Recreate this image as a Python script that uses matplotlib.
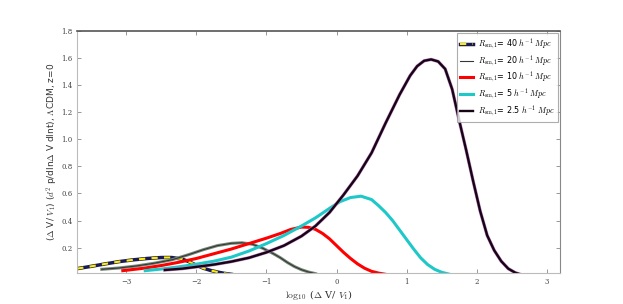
import matplotlib
matplotlib.use('Agg')
import matplotlib.pyplot as plt

plt.rcParams['mathtext.fontset'] = 'cm'

# log10(dV/V1) vs distribution
x_40 = [-3.7, -3.5, -3.3, -3.1, -2.9, -2.7, -2.5, -2.35, -2.2, -2.1, -2.0, -1.9, -1.8, -1.7, -1.6, -1.5]
y_40 = [0.045, 0.062, 0.08, 0.097, 0.11, 0.12, 0.127, 0.127, 0.115, 0.095, 0.07, 0.048, 0.032, 0.02, 0.01, 0.003]

x_20 = [-3.35, -3.1, -2.85, -2.6, -2.35, -2.1, -1.9, -1.7, -1.5, -1.35, -1.2, -1.05,
        -0.9, -0.8, -0.7, -0.6, -0.5, -0.4, -0.3]
y_20 = [0.04, 0.05, 0.065, 0.085, 0.11, 0.15, 0.185, 0.215, 0.232, 0.236, 0.225, 0.195,
        0.155, 0.125, 0.09, 0.06, 0.037, 0.02, 0.008]

x_10 = [-3.05, -2.75, -2.5, -2.25, -2.0, -1.75, -1.5, -1.25, -1.0, -0.8, -0.65, -0.5,
        -0.4, -0.3, -0.2, -0.1, 0.0, 0.1, 0.2, 0.3, 0.4, 0.5, 0.6, 0.7]
y_10 = [0.03, 0.048, 0.068, 0.092, 0.12, 0.155, 0.19, 0.23, 0.27, 0.305, 0.335, 0.352,
        0.35, 0.335, 0.305, 0.265, 0.215, 0.165, 0.12, 0.08, 0.048, 0.025, 0.012, 0.003]

x_5 = [-2.73, -2.5, -2.25, -2.0, -1.75, -1.5, -1.25, -1.0, -0.75, -0.5, -0.3, -0.1,
       0.05, 0.2, 0.35, 0.5, 0.6, 0.7, 0.8, 0.9, 1.0, 1.1, 1.2, 1.3, 1.4, 1.5, 1.6]
y_5 = [0.03, 0.042, 0.058, 0.078, 0.10, 0.13, 0.175, 0.23, 0.29, 0.36, 0.42, 0.49,
       0.54, 0.57, 0.58, 0.555, 0.51, 0.46, 0.40, 0.33, 0.26, 0.19, 0.125, 0.075, 0.04, 0.018, 0.005]

x_25 = [-2.45, -2.2, -2.0, -1.75, -1.5, -1.25, -1.0, -0.75, -0.5, -0.3, -0.1, 0.1,
        0.3, 0.5, 0.7, 0.9, 1.05, 1.15, 1.25, 1.35, 1.45, 1.55, 1.65, 1.75, 1.85,
        1.95, 2.05, 2.15, 2.25, 2.35, 2.45, 2.55, 2.62]
y_25 = [0.035, 0.045, 0.058, 0.075, 0.097, 0.125, 0.165, 0.215, 0.285, 0.36, 0.46, 0.59,
        0.73, 0.90, 1.12, 1.33, 1.47, 1.54, 1.58, 1.59, 1.575, 1.52, 1.37, 1.14, 0.92,
        0.69, 0.47, 0.29, 0.18, 0.10, 0.045, 0.015, 0.003]

labels = [r'$R_{\rm sm,1}$= 40 $h^{-1}$ $Mpc$',
          r'$R_{\rm sm,1}$= 20 $h^{-1}$ $Mpc$',
          r'$R_{\rm sm,1}$= 10 $h^{-1}$ $Mpc$',
          r'$R_{\rm sm,1}$= 5 $h^{-1}$ $Mpc$',
          r'$R_{\rm sm,1}$= 2.5 $h^{-1}$ $Mpc$']

fig, ax = plt.subplots(figsize=(6.23, 3.04), dpi=100)
fig.subplots_adjust(left=0.124, right=0.899, bottom=0.103, top=0.898)

l40a, = ax.plot(x_40, y_40, color='#1a1a50', lw=2.5)
l40b, = ax.plot(x_40, y_40, color='#ffee00', lw=1.5, dashes=(3, 3))
ax.plot(x_20, y_20, color='#7a887a', lw=2.2)
l20, = ax.plot(x_20, y_20, color='#333833', lw=0.8)
l10, = ax.plot(x_10, y_10, color='red', lw=2.2)
l5, = ax.plot(x_5, y_5, color='#1ec8c8', lw=2.2)
ax.plot(x_25, y_25, color='#c080c0', lw=2.4)
l25, = ax.plot(x_25, y_25, color='#150515', lw=1.7)

leg = ax.legend([(l40a, l40b), l20, l10, l5, l25], labels, loc='upper right',
                fontsize=5.8, frameon=True, fancybox=False, handlelength=1.6,
                borderaxespad=0.3, labelspacing=0.15, handletextpad=0.6,
                borderpad=0.4)
leg.get_frame().set_edgecolor('#999999')
leg.get_frame().set_linewidth(0.8)

ax.set_xlim(-3.7, 3.19)
ax.set_ylim(0.015, 1.8)
ax.set_xticks([-3, -2, -1, 0, 1, 2, 3])
ax.set_yticks([0.2, 0.4, 0.6, 0.8, 1.0, 1.2, 1.4, 1.6, 1.8])
ax.tick_params(direction='in', top=True, right=True, labelsize=5, colors='#888888',
               labelcolor='#444444', length=3, width=0.6)
for lab in ax.get_xticklabels() + ax.get_yticklabels():
    lab.set_family('DejaVu Serif')

for side in ['left', 'bottom']:
    ax.spines[side].set_color('#bbbbbb')
ax.spines['right'].set_color('#888888')
ax.spines['top'].set_color('#555555')
ax.spines['top'].set_linewidth(1.2)

ax.set_xlabel(r'$\log_{10}$ ($\Delta$ V/ $V_1$)', fontsize=7, color='#333333',
              family='DejaVu Serif', labelpad=2)
ax.set_ylabel(r'($\Delta$ V/ $V_1$) ($d^2$ p/dln$\Delta$ V dlnt), $\Lambda$CDM, z=0',
              fontsize=6.5, color='#333333', labelpad=1)

fig.savefig('out.png', dpi=100)
